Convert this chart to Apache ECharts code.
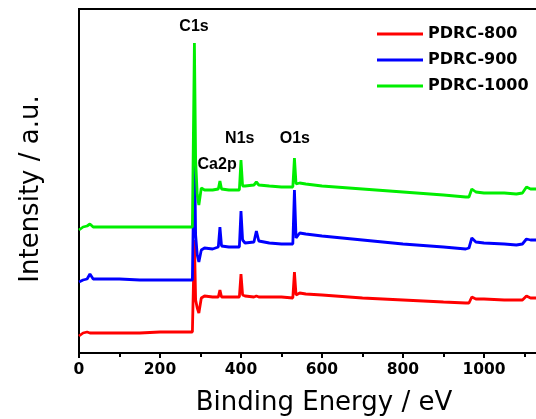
<!DOCTYPE html>
<html>
<head>
<meta charset="utf-8">
<script src="https://cdn.jsdelivr.net/npm/echarts@6/dist/echarts.min.js"></script>
<style>
  html, body { margin: 0; padding: 0; background: #fff; overflow: hidden; }
  #wrap { width: 536px; height: 419px; overflow: hidden; position: relative; }
  /* the plot frame runs past the right edge of the view */
  #chart { position: absolute; left: 0; top: 0; width: 569px; height: 419px; }
</style>
</head>
<body>
<div id="wrap"><div id="chart"></div></div>
<script>
// XPS survey spectra, binding energy (eV) vs. intensity (a.u., offset per sample)
const energy = [0, 10, 20, 27, 35, 60, 100, 150, 200, 250,
  280, 283, 285, 288, 292, 296, 302, 310, 330, 344,
  348, 352, 370, 396, 400, 404, 410, 432, 438, 444,
  470, 500, 528, 532, 536, 545, 560, 600, 700, 800,
  900, 955, 963, 970, 980, 1000, 1050, 1080, 1095, 1105,
  1115, 1130, 1210];

const pdrc800 = [17, 20, 21, 20, 20, 20, 20, 20, 21, 21,
  21, 22, 113, 53, 45, 40, 55, 57, 56, 56,
  63, 56, 56, 56, 79, 58, 57, 56, 57, 56,
  56, 56, 55, 81, 58, 60, 59, 58, 55, 53,
  51, 50, 50, 56, 54, 54, 53, 53, 53, 57,
  55, 55, 55];

const pdrc900 = [71, 73, 74, 79, 74, 74, 74, 73, 73, 73,
  73, 74, 213, 118, 98, 91, 103, 105, 104, 106,
  126, 107, 106, 106, 142, 113, 110, 111, 122, 112,
  110, 109, 109, 163, 115, 120, 119, 117, 113, 109,
  106, 104, 105, 115, 111, 110, 109, 108, 109, 114,
  113, 113, 113];

const pdrc1000 = [123, 126, 127, 129, 126, 126, 126, 126, 126, 126,
  126, 127, 310, 193, 158, 148, 165, 163, 163, 164,
  172, 164, 163, 163, 193, 167, 167, 168, 171, 168,
  167, 166, 166, 195, 169, 170, 169, 167, 164, 161,
  158, 156, 156, 164, 161, 160, 160, 159, 160, 166,
  164, 164, 164];

const seriesNames = ['PDRC-800', 'PDRC-900', 'PDRC-1000'];
const seriesColors = ['#ff0000', '#0000ff', '#00ee00'];

// peak annotations: label, binding energy, intensity position
const peakNames = ['C1s', 'Ca2p', 'N1s', 'O1s'];
const peakEnergy = [284, 341, 397, 533];
const peakLevel = [326, 188, 214, 214];

const xTicks = [0, 200, 400, 600, 800, 1000, 1200];

const wideFont = '"DejaVu Sans", sans-serif';
const peakFont = '"Liberation Sans", Arial, sans-serif';

function pairs(ys) { return energy.map((e, i) => [e, ys[i]]); }

const chart = echarts.init(document.getElementById('chart'), null,
  { renderer: 'canvas', width: 569, height: 419 });

const lineSeries = [pdrc800, pdrc900, pdrc1000].map((ys, i) => ({
  name: seriesNames[i],
  type: 'line',
  data: pairs(ys),
  symbol: 'none',
  smooth: false,
  z: 2 + i,
  lineStyle: { color: seriesColors[i], width: 2.8 },
  itemStyle: { color: seriesColors[i] }
}));

chart.setOption({
  animation: false,
  backgroundColor: '#fff',
  grid: {
    left: 79, right: 0, top: 9, bottom: 66,
    outerBoundsMode: 'none', containLabel: false,
    show: true, borderColor: '#000', borderWidth: 2, backgroundColor: 'transparent'
  },
  legend: {
    data: seriesNames,
    orient: 'vertical',
    left: 372, top: 21,
    itemWidth: 46, itemHeight: 14, itemGap: 10,
    icon: 'path://M0,5.5 L46,5.5 L46,8.5 L0,8.5 Z',
    textStyle: { fontFamily: wideFont, fontSize: 16, fontWeight: 'bold', color: '#000' }
  },
  xAxis: {
    type: 'value',
    min: xTicks[0], max: 1210, interval: 200,
    name: 'Binding Energy / eV',
    nameLocation: 'middle', nameGap: 37,
    nameTextStyle: { fontFamily: wideFont, fontSize: 26, color: '#000' },
    axisLine: { show: true, onZero: false, lineStyle: { color: '#000', width: 2 } },
    axisTick: { show: true, inside: false, length: 5, lineStyle: { color: '#000', width: 2 } },
    minorTick: { show: true, splitNumber: 2, length: 4, lineStyle: { color: '#000', width: 2 } },
    axisLabel: { fontFamily: wideFont, fontSize: 15.5, fontWeight: 'bold', color: '#000', margin: 9,
      showMaxLabel: false, formatter: v => String(v) },
    splitLine: { show: false }
  },
  yAxis: {
    type: 'value',
    min: 0, max: 344,
    name: 'Intensity / a.u.',
    nameLocation: 'middle', nameGap: 35,
    nameTextStyle: { fontFamily: wideFont, fontSize: 26, color: '#000', padding: [0, 16, 0, 0] },
    axisLine: { show: true, lineStyle: { color: '#000', width: 2 } },
    axisTick: { show: false },
    axisLabel: { show: false },
    splitLine: { show: false }
  },
  series: lineSeries.concat([{
    name: 'peaks',
    type: 'scatter',
    data: peakNames.map((n, i) => ({ name: n, value: [peakEnergy[i], peakLevel[i]] })),
    symbolSize: 0,
    z: 10,
    silent: true,
    itemStyle: { opacity: 1 },
    label: {
      show: true, position: 'inside',
      formatter: p => p.name,
      fontFamily: peakFont, fontSize: 16, fontWeight: 'bold', color: '#000',
      textBorderWidth: 0, opacity: 1
    }
  }])
});
</script>
</body>
</html>
